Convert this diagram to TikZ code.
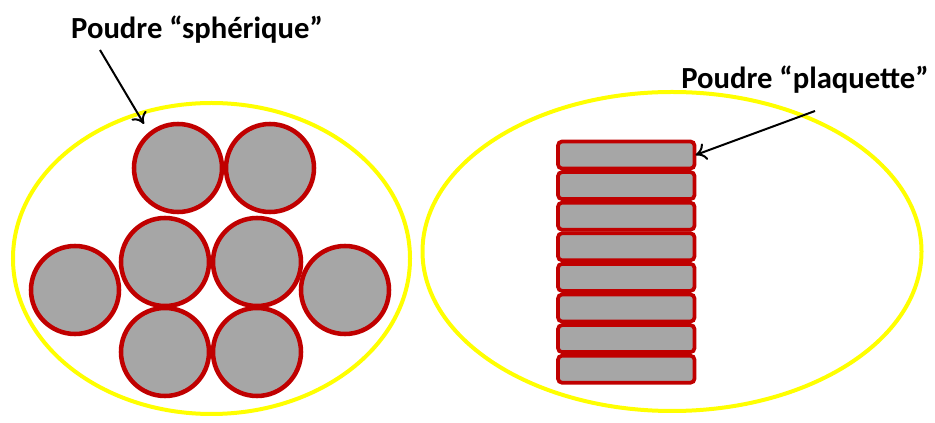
\documentclass[tikz,border=0pt]{standalone}
\usepackage{fontspec}
\setmainfont{Carlito}
\usetikzlibrary{arrows.meta}
\definecolor{grain}{HTML}{A6A6A6}
\definecolor{rim}{HTML}{C00000}
\definecolor{jaune}{HTML}{FFFF00}
\begin{document}
\begin{tikzpicture}[x=0.75pt,y=-0.75pt,
  bulle/.style={draw=jaune,line width=3pt},
  bille/.style={draw=rim,fill=grain,line width=3.4pt},
  plaque/.style={draw=rim,fill=grain,line width=2.8pt,rounded corners=3pt},
  etiquette/.style={font=\bfseries\fontsize{23}{26}\selectfont,inner sep=0pt},
  fleche/.style={draw=black,line width=1.5pt,-{To[length=8pt,width=13pt]}}]
\useasboundingbox (0,0) rectangle (935,423);
\fill[white] (0,0) rectangle (935,423);
% ellipses
\draw[bulle] (211.5,258.5) ellipse [x radius=198.5, y radius=155.5];
\draw[bulle] (672,251.5) ellipse [x radius=249.5, y radius=159.5];
% spheres
\foreach \n/\cx/\cy in {a/178/168, b/270/168, c/165/262, d/257/262, e/75/290, f/345/290, g/165/352, h/257/352}
  \draw[bille] (\cx,\cy) circle [radius=44];
% plates
\foreach \i in {0,...,7}
  \draw[plaque] (558,{141.5+30.6*\i}) rectangle (694.5,{168.5+30.6*\i});
\coordinate (p1) at (695.5,155);
\coordinate (s1) at (144,124);
% labels
\node[etiquette] (lab1) at (197,30) {Poudre “sphérique”};
\node[etiquette] (lab2) at (805,80) {Poudre “plaquette”};
\coordinate (t1) at (100,50);
\coordinate (t2) at (815,111);
\draw[fleche] (t1) -- (s1);
\draw[fleche] (t2) -- (p1);
\end{tikzpicture}
\end{document}
